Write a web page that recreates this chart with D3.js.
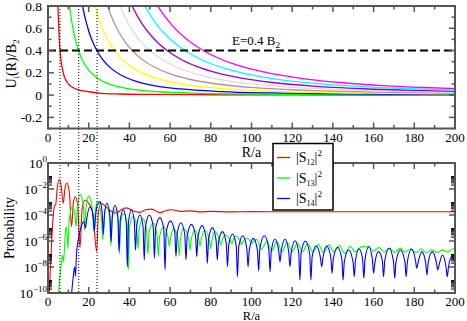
<!DOCTYPE html>
<html><head><meta charset="utf-8">
<script src="https://cdn.jsdelivr.net/npm/d3@7"></script>
<style>
body{margin:0;background:#fff}
svg{display:block}
text{font-family:"Liberation Serif","Times New Roman",serif;fill:#000}
</style></head>
<body><svg id="c" width="467" height="321"></svg>
<script>
// ---------- DATA ----------
// Upper panel: potential curves U_i(R)/B2, pairs [R/a, U]
const U1 = [[4.5,0.95],[4.9,0.8],[5.3,0.6],[5.9,0.4],[6.5,0.3],[7.5,0.2],[9.2,0.12],[12,0.07],[15.7,0.045],[20,0.03],[25,0.018],[35,0.01],[50,0.006],[80,0.003],[120,0.0015],[200,0.0008]];
const U2 = [[10,0.9],[11,0.744],[12,0.625],[13.5,0.494],[15,0.4],[17,0.311],[20,0.225],[24,0.156],[30,0.1],[40,0.056],[55,0.03],[75,0.016],[100,0.009],[140,0.0046],[200,0.0023]];
const U3 = [[16,0.9],[18,0.711],[20,0.576],[22,0.476],[24,0.4],[27,0.316],[31,0.24],[36,0.178],[43,0.125],[52,0.085],[65,0.055],[85,0.032],[110,0.019],[150,0.0102],[200,0.0058]];
const U4 = [[21.8,0.9],[24,0.743],[27,0.587],[30,0.475],[33,0.393],[37,0.312],[42,0.242],[48,0.186],[56,0.136],[66,0.098],[80,0.067],[100,0.043],[130,0.025],[165,0.0157],[200,0.0107]];
const U5 = [[27.6,0.9],[30,0.762],[34,0.593],[38,0.475],[41.4,0.4],[46,0.324],[52,0.254],[60,0.19],[70,0.14],[82,0.102],[100,0.0686],[125,0.0439],[160,0.0268],[200,0.0171]];
const U6 = [[33.3,0.9],[36,0.772],[40,0.625],[45,0.494],[50,0.4],[56,0.319],[63,0.252],[72,0.193],[84,0.142],[100,0.1],[120,0.069],[145,0.048],[170,0.0346],[200,0.025]];
const U7 = [[39,0.9],[42,0.776],[46,0.647],[52,0.506],[58.5,0.4],[65,0.324],[73,0.257],[83,0.199],[95,0.152],[110,0.113],[130,0.081],[155,0.057],[180,0.042],[200,0.034]];
const U8 = [[44.9,0.9],[48,0.786],[53,0.645],[60,0.503],[67.3,0.4],[75,0.322],[85,0.251],[97,0.193],[112,0.144],[130,0.107],[150,0.0805],[175,0.0592],[200,0.0453]];
const U9 = [[50.9,0.9],[55,0.77],[61,0.626],[68,0.504],[76.3,0.4],[85,0.322],[96,0.253],[110,0.192],[127,0.144],[145,0.111],[165,0.0855],[185,0.068],[200,0.058]];
const energyLevel = 0.4;
const turningPoints = [5.9, 15.1, 24.1];

// Lower panel: probabilities, pairs [R/a, log10(P)]
const S12 = [[0.5,-10.4],[1.5,-7],[2.5,-4.2],[3.2,-3.3],[3.8,-3.2],[4.5,-2],[5.5,-1.25],[6.5,-1.8],[7.5,-3.1],[8.3,-2],[9.3,-1.55],[10.5,-2.3],[11.6,-4.9],[12.5,-3],[13.5,-2.6],[14.6,-3.3],[15.7,-6.5],[16.8,-3.5],[18.2,-2.85],[20,-3.1],[22,-3.8],[23.9,-6.8],[24.8,-3.8],[26,-3.1],[28,-3.3],[30,-3.6],[33.5,-3.85],[36,-3.6],[38.5,-3.45],[42,-3.7],[45,-3.8],[48,-3.6],[51,-3.55],[55,-3.82],[58,-3.65],[61,-3.6],[65,-3.72],[70,-3.68],[75,-3.76],[80,-3.72],[90,-3.76],[100,-3.74],[120,-3.75],[150,-3.75],[200,-3.75]];
const S13 = [[4.9,-10.4],[5.7,-9.0],[6.4,-7.9],[7.2,-7.1],[7.7,-7.6],[8.3,-5.9],[8.9,-4.9],[9.4,-5.6],[9.8,-6.6],[10.2,-5.0],[11.0,-3.8],[12.1,-3.35],[13.2,-3.9],[13.8,-4.9],[14.4,-3.6],[15.8,-2.4],[17.0,-2.9],[17.6,-3.8],[18.0,-5.2],[18.5,-3.7],[20.0,-2.55],[21.5,-3.2],[22.1,-4.3],[22.5,-5.3],[23.0,-4.2],[24.3,-2.95],[25.9,-3.7],[26.4,-4.6],[26.9,-5.9],[27.4,-4.6],[28.7,-3.35],[30.3,-4.2],[30.9,-6.4],[31.5,-4.4],[33.0,-3.6],[34.5,-4.4],[35.1,-7.0],[35.7,-4.6],[37.3,-3.85],[38.9,-4.7],[39.5,-8.2],[40.1,-4.9],[41.9,-4.1],[43.6,-5.0],[44.2,-6.6],[44.8,-5.1],[46.6,-4.3],[48.5,-5.2],[49.1,-7.0],[49.7,-5.3],[51.8,-4.64],[53.6,-5.6],[54.2,-7.2],[54.8,-5.7],[56.7,-4.9],[59.0,-5.7],[59.6,-6.4],[60.2,-5.8],[61.6,-5.03],[63.9,-5.9],[64.5,-7.1],[65.1,-5.9],[66.5,-5.03],[69.2,-5.9],[69.8,-6.7],[70.4,-5.9],[72.2,-5.15],[74.1,-5.9],[74.7,-6.4],[75.3,-5.9],[77.1,-5.15],[79.3,-5.95],[79.9,-6.6],[80.5,-6.0],[82.1,-5.28],[84.3,-5.95],[84.9,-6.3],[85.5,-6.0],[87.0,-5.54],[89.7,-6.0],[90.3,-6.2],[90.9,-6.0],[91.9,-5.62],[94.6,-6.05],[95.2,-6.3],[95.8,-6.05],[97.6,-5.79],[99.5,-6.05],[100.1,-6.2],[100.7,-6.1],[102.6,-5.87],[104.9,-6.67],[107.5,-6.0],[110.0,-6.75],[112.5,-6.05],[115.0,-6.85],[117.5,-6.1],[120.0,-6.8],[122.6,-6.15],[125.0,-6.85],[127.6,-6.2],[130.2,-6.85],[132.8,-6.25],[135.4,-6.9],[138.0,-6.3],[140.6,-6.85],[143.2,-6.35],[145.8,-6.95],[148.5,-6.4],[151.0,-6.85],[154.0,-6.45],[157.4,-6.4],[160.0,-6.8],[162.6,-6.5],[165.2,-6.85],[167.8,-6.55],[170.4,-6.9],[173.0,-6.55],[175.6,-6.85],[178.2,-6.6],[180.8,-6.9],[183.4,-6.6],[186.0,-6.9],[188.6,-6.65],[191.2,-6.9],[193.8,-6.7],[196.4,-6.85],[199,-6.6],[200,-6.6]];
const S14 = [[11.4,-10.4],[12.3,-8.9],[13.1,-8.0],[13.5,-8.7],[14.0,-7.0],[15.0,-5.8],[16.3,-4.9],[17.6,-4.5],[18.4,-5.0],[19.2,-4.1],[20.6,-3.4],[21.6,-3.6],[22.3,-4.4],[22.8,-5.2],[23.3,-4.2],[24.3,-3.2],[25.6,-2.97],[26.6,-3.8],[27.2,-5.5],[27.8,-3.9],[28.9,-3.1],[30.4,-4.0],[31.0,-6.05],[31.6,-4.1],[32.9,-3.25],[34.3,-4.1],[34.9,-6.8],[35.5,-4.4],[37.0,-3.6],[38.4,-4.5],[39.0,-8.0],[39.6,-4.5],[41.0,-3.6],[42.4,-4.5],[43.0,-6.7],[43.6,-4.8],[45.2,-4.0],[46.7,-4.9],[47.3,-7.46],[47.9,-4.9],[49.8,-4.0],[51.7,-4.9],[52.3,-7.33],[52.9,-5.0],[55.0,-4.2],[56.9,-5.1],[57.5,-8.23],[58.1,-5.3],[60.2,-4.45],[62.3,-5.35],[62.9,-7.2],[63.5,-5.45],[65.3,-4.6],[67.2,-5.5],[67.8,-7.46],[68.4,-5.6],[70.5,-4.72],[72.5,-5.65],[73.1,-7.2],[73.7,-5.7],[75.7,-4.82],[77.7,-5.8],[78.3,-7.72],[78.9,-5.85],[80.8,-4.97],[82.6,-5.95],[83.2,-7.46],[83.8,-6.1],[85.7,-5.28],[87.6,-6.2],[88.2,-7.98],[88.8,-6.3],[90.7,-5.46],[92.5,-6.4],[93.1,-8.75],[93.7,-6.5],[95.7,-5.6],[97.7,-6.6],[98.3,-7.98],[98.9,-6.7],[100.9,-5.8],[102.9,-6.7],[103.5,-8.3],[104.1,-6.6],[106.3,-5.6],[108.5,-6.6],[109.1,-8.36],[109.7,-6.8],[111.5,-5.87],[113.4,-6.8],[114.0,-7.59],[114.6,-6.8],[116.5,-5.87],[118.3,-6.85],[118.9,-7.98],[119.5,-6.9],[121.4,-5.98],[123.2,-6.9],[123.8,-9.0],[124.4,-6.9],[126.5,-6.0],[128.6,-7.0],[129.2,-9.0],[129.8,-7.2],[131.8,-6.38],[133.9,-7.3],[134.5,-7.98],[135.1,-7.3],[137.0,-6.38],[139.0,-7.3],[139.6,-8.48],[140.2,-7.4],[142.3,-6.48],[144.4,-7.4],[145.0,-9.0],[145.6,-7.6],[147.7,-6.69],[149.9,-7.6],[150.5,-8.75],[151.1,-7.5],[152.8,-6.6],[154.6,-7.4],[155.2,-8.87],[155.8,-7.4],[157.6,-6.44],[159.4,-7.4],[160.0,-8.48],[160.6,-7.7],[162.4,-6.82],[164.3,-7.5],[164.9,-8.75],[165.5,-7.5],[167.6,-6.56],[169.8,-7.6],[170.4,-8.87],[171.0,-7.6],[173.2,-6.69],[175.4,-7.6],[176.0,-8.75],[176.6,-7.6],[178.6,-6.64],[180.6,-7.5],[181.2,-8.1],[181.8,-7.7],[183.7,-6.82],[185.6,-7.7],[186.2,-8.6],[186.8,-7.7],[188.8,-6.82],[190.9,-7.7],[191.5,-8.23],[192.1,-7.9],[193.8,-7.08],[195.6,-8.0],[196.2,-8.75],[196.8,-8.0],[198.5,-7.2],[200,-7.7]];

const xTicks = [0,20,40,60,80,100,120,140,160,180,200];
const yTopTicks = [-0.2,0,0.2,0.4,0.6,0.8];
const yTopLabels = ["-0.2","0","0.2","0.4","0.6","0.8"];
const yBotExps = [0,-2,-4,-6,-8,-10];
const legendLabels = ["12","13","14"];

// ---------- STYLE ----------
const potColors = ["#ff0000","#00ff00","#0000ff","#ffff00","#bc8f8f","#dcdcdc","#9400d3","#00ffff","#ff00ff"];
const probColors = ["#ff0000","#00ff00","#0000ff"];
const frameColor = "#555";

const svg = d3.select("#c");
const xL=48, xR=455, tT=6, tB=128.5, bT=163, bB=293;
const x = d3.scaleLinear().domain([0,200]).range([xL,xR]);
const yT = d3.scaleLinear().domain([-0.3,0.8]).range([tB,tT]);
const yB = d3.scaleLog().domain([1e-10,1]).range([bB,bT]);

const defs = svg.append("defs");
defs.append("clipPath").attr("id","clipT").append("rect").attr("x",xL).attr("y",tT).attr("width",xR-xL).attr("height",tB-tT);
defs.append("clipPath").attr("id","clipB").append("rect").attr("x",xL).attr("y",bT).attr("width",xR-xL).attr("height",bB-bT);

// ---- upper curves
const lineT = d3.line().x(d=>x(d[0])).y(d=>yT(d[1])).curve(d3.curveMonotoneX);
const gT = svg.append("g").attr("clip-path","url(#clipT)");
[U1,U2,U3,U4,U5,U6,U7,U8,U9].forEach((s,i)=>{
  gT.append("path").attr("d",lineT(s)).attr("fill","none").attr("stroke",potColors[i]).attr("stroke-width",1.3);
});
gT.append("line").attr("x1",x(0)).attr("x2",x(200)).attr("y1",yT(energyLevel)).attr("y2",yT(energyLevel))
  .attr("stroke","#000").attr("stroke-width",2).attr("stroke-dasharray","8,4");

// ---- lower curves
const lineB = d3.line().x(d=>x(d[0])).y(d=>yB(Math.pow(10,d[1]))).curve(d3.curveMonotoneX);
const gB = svg.append("g").attr("clip-path","url(#clipB)");
[S12,S13,S14].forEach((s,i)=>{
  gB.append("path").attr("d",lineB(s)).attr("fill","none").attr("stroke",probColors[i]).attr("stroke-width",1.1);
});

// ---- dotted vertical lines
turningPoints.forEach(r=>{
  svg.append("line").attr("x1",x(r)).attr("x2",x(r)).attr("y1",yT(0.8)).attr("y2",yB(1e-10))
    .attr("stroke","#000").attr("stroke-width",1).attr("stroke-dasharray","1,2");
});

// ---- axes / ticks
function ticksX(y0, dir){
  const g = svg.append("g");
  d3.range(0,201,10).forEach(v=>{
    const L = v%20===0?6:3.5;
    g.append("line").attr("x1",x(v)).attr("x2",x(v)).attr("y1",y0).attr("y2",y0+dir*L).attr("stroke",frameColor).attr("stroke-width",1.5);
  });
}
ticksX(tB,-1); ticksX(tT,1); ticksX(bB,-1); ticksX(bT,1);
// top panel y ticks
[xL,xR].forEach((xx,k)=>{
  const dir = k===0?1:-1;
  d3.range(-0.3,0.81,0.1).forEach(v=>{
    const vv = Math.round(v*10)/10;
    const major = Math.abs(Math.round(vv*10))%2===0;
    const L = major?6:3.5;
    svg.append("line").attr("x1",xx).attr("x2",xx+dir*L).attr("y1",yT(vv)).attr("y2",yT(vv)).attr("stroke",frameColor).attr("stroke-width",1.5);
  });
});
// bottom panel y ticks (log)
[xL,xR].forEach((xx,k)=>{
  const dir = k===0?1:-1;
  yBotExps.forEach(e=>{
    svg.append("line").attr("x1",xx).attr("x2",xx+dir*6).attr("y1",yB(Math.pow(10,e))).attr("y2",yB(Math.pow(10,e))).attr("stroke",frameColor).attr("stroke-width",1.5);
    if(e<0){
      d3.range(2,10).forEach(m=>{
        const v = m*Math.pow(10,e);
        svg.append("line").attr("x1",xx).attr("x2",xx+dir*4).attr("y1",yB(v)).attr("y2",yB(v)).attr("stroke","#000").attr("stroke-width",1);
      });
    }
  });
});
// frames
svg.append("rect").attr("x",xL).attr("y",tT).attr("width",xR-xL).attr("height",tB-tT).attr("fill","none").attr("stroke",frameColor).attr("stroke-width",2);
svg.append("rect").attr("x",xL).attr("y",bT).attr("width",xR-xL).attr("height",bB-bT).attr("fill","none").attr("stroke",frameColor).attr("stroke-width",2);

// tick labels
const fs = 13;
[tB+13.5, bB+12.5].forEach(yy=>{
  xTicks.forEach(v=>{
    svg.append("text").attr("x",x(v)).attr("y",yy).attr("text-anchor","middle").attr("font-size",fs).text(v);
  });
});
yTopTicks.forEach((v,i)=>{
  svg.append("text").attr("x",42).attr("y",yT(v)+4.5).attr("text-anchor","end").attr("font-size",13.5).text(yTopLabels[i]);
});
yBotExps.forEach(e=>{
  const t = svg.append("text").attr("x",47).attr("y",yB(Math.pow(10,e))+5).attr("text-anchor","end").attr("font-size",13.5);
  t.append("tspan").text("10");
  t.append("tspan").attr("dy",-6).attr("font-size",9).text(e===0?"0":"\u2212"+(-e).toString());
});

// axis titles
svg.append("text").attr("x",(xL+xR)/2).attr("y",157).attr("text-anchor","middle").attr("font-size",14).text("R/a");
svg.append("text").attr("x",(xL+xR)/2).attr("y",319.5).attr("text-anchor","middle").attr("font-size",12.5).text("R/a");
const ty = svg.append("text").attr("transform","translate(16,64) rotate(-90)").attr("text-anchor","middle").attr("font-size",14);
ty.append("tspan").text("U");
ty.append("tspan").attr("dy",3).attr("font-size",9).text("i");
ty.append("tspan").attr("dy",-3).text("(R)/B");
ty.append("tspan").attr("dy",3).attr("font-size",9).text("2");
svg.append("text").attr("transform","translate(14,228) rotate(-90)").attr("text-anchor","middle").attr("font-size",14).text("Probability");

// annotation
const ann = svg.append("text").attr("x",232).attr("y",44.5).attr("font-size",13);
ann.append("tspan").text("E=0.4 B");
ann.append("tspan").attr("dy",3).attr("font-size",9).text("2");

// legend
const lg = svg.append("g");
lg.append("rect").attr("x",273).attr("y",143.5).attr("width",60).attr("height",66.5).attr("fill","#fff").attr("stroke","#000").attr("stroke-width",1.5);
legendLabels.forEach((lab,i)=>{
  const yy = 157.5 + i*20.5;
  lg.append("line").attr("x1",277).attr("x2",290).attr("y1",yy).attr("y2",yy).attr("stroke",probColors[i]).attr("stroke-width",1.3);
  const t = lg.append("text").attr("x",296).attr("y",yy+4.5).attr("font-size",14);
  t.append("tspan").text("|S");
  t.append("tspan").attr("dy",3).attr("font-size",8).text(lab);
  t.append("tspan").attr("dy",-3).text("|");
  t.append("tspan").attr("dy",-6).attr("font-size",9).text("2");
});
</script></body></html>
